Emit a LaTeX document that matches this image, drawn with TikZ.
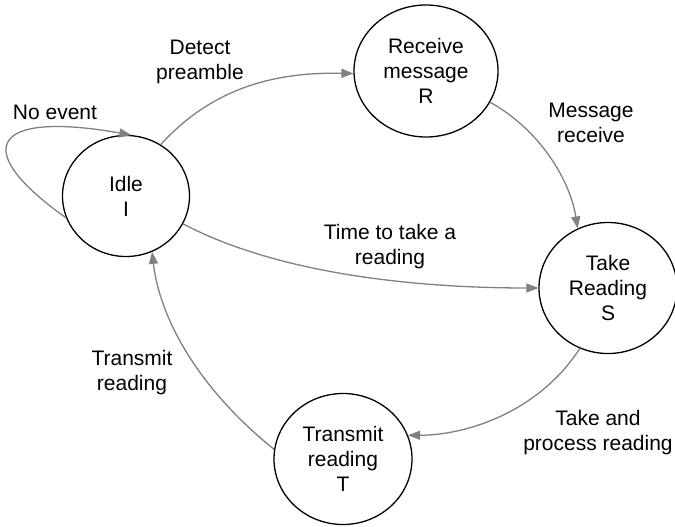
\documentclass[tikz,border=0pt]{standalone}
\usepackage{fontspec}
\setmainfont{Liberation Sans}
\usetikzlibrary{shapes.geometric,arrows.meta}

\begin{document}
\begin{tikzpicture}[x=1pt,y=-1pt,
    every node/.style={font=\fontsize{21}{25}\selectfont},
    state/.style={draw,ellipse,line width=1.3pt,align=center,inner sep=0pt,minimum width=138pt,minimum height=131pt},
    trans/.style={draw=gray,line width=1.3pt,-{Triangle[length=12pt,width=9pt]}},
    lbl/.style={align=center}]
        \useasboundingbox (0,0) rectangle (675,527);
        \node[state,minimum width=127pt,minimum height=121pt] (idle) at (126,196) {Idle\\I};
        \node[state,minimum width=144pt,minimum height=132pt] (recv) at (426,71) {Receive\\message\\R};
        \node[state] (take) at (608,288) {Take\\Reading\\S};
        \node[state] (tx) at (343,459) {Transmit\\reading\\T};

        \node[lbl] (lnoevent) at (55,112) {No event};
        \node[lbl] (ldetect) at (200,62) {Detect\\preamble};
        \node[lbl] (lmsg) at (591,123) {Message\\receive};
        \node[lbl] (ltime) at (390,247) {Time to take a\\reading};
        \node[lbl] (ltx) at (132,373) {Transmit\\reading};
        \node[lbl] (ltake) at (598,433) {Take and\\process reading};

        \draw[trans] (idle.200) .. controls (-30,150) and (-10,110) .. (idle.85);
        \draw[trans] (idle.56) .. controls (215,85) and (280,72) .. (recv.182);
        \draw[trans] (recv.-26) .. controls (540,130) and (570,180) .. (take.117);
        \draw[trans] (idle.-26) .. controls (280,275) and (420,288) .. (take.180);
        \draw[trans] (take.-115) .. controls (540,410) and (470,435) .. (tx.20);
        \draw[trans] (tx.172) .. controls (200,390) and (160,320) .. (idle.-65);
    \end{tikzpicture}
\end{document}
